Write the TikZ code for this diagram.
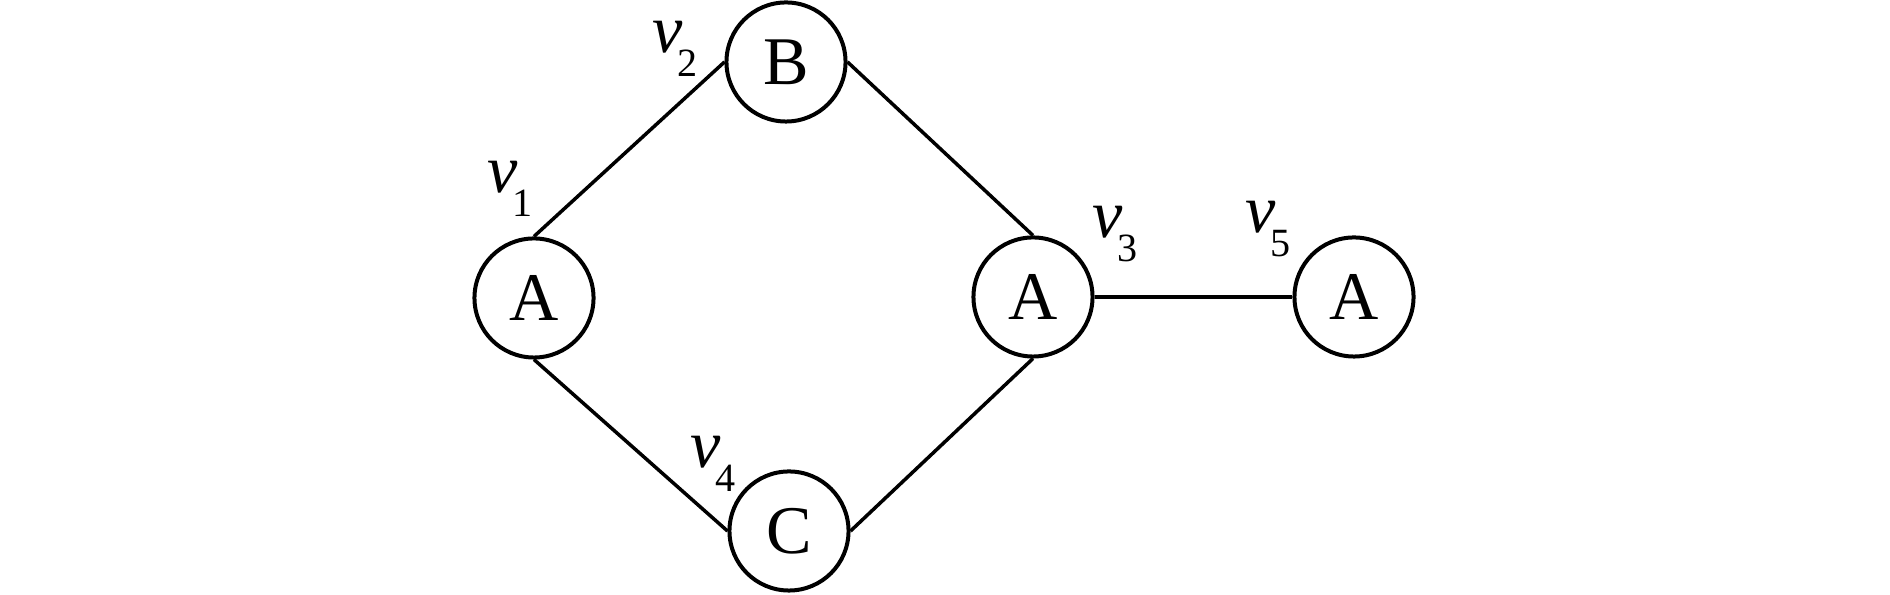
\documentclass[tikz,border=0pt]{standalone}
\usepackage{fontspec}
\setmainfont{Liberation Serif}
\newcommand{\vlab}[1]{\textit{v}\kern-0.05cm\raisebox{-0.23cm}{\fontsize{11.4}{13}\selectfont #1}}
\begin{document}
\begin{tikzpicture}[x=0.01cm,y=-0.01cm,
  vert/.style={circle,draw,line width=0.04cm,minimum size=1.19cm,inner sep=0pt,
    font=\fontsize{19.4}{23}\selectfont},
  lab/.style={anchor=base west,inner sep=0pt,font=\fontsize{19.4}{23}\selectfont},
  edge/.style={line width=0.035cm}]
\useasboundingbox (0,0) rectangle (1890,595);
\node[vert] (n1) at (534,298) {A};
\node[vert] (n2) at (786,62) {B};
\node[vert] (n3) at (1033,297) {A};
\node[vert] (n4) at (789,531) {C};
\node[vert] (n5) at (1354,297) {A};
\node[lab] (l1) at (487,193) {\vlab{1}};
\node[lab] (l2) at (652,53) {\vlab{2}};
\node[lab] (l3) at (1092,238) {\vlab{3}};
\node[lab] (l4) at (690,468) {\vlab{4}};
\node[lab] (l5) at (1245,233) {\vlab{5}};
\draw[edge] (n1.north) -- (n2.west);
\draw[edge] (n2.east) -- (n3.north);
\draw[edge] (n1.south) -- (n4.west);
\draw[edge] (n4.east) -- (n3.south);
\draw[edge] (n3.east) -- (n5.west);
\end{tikzpicture}
\end{document}
